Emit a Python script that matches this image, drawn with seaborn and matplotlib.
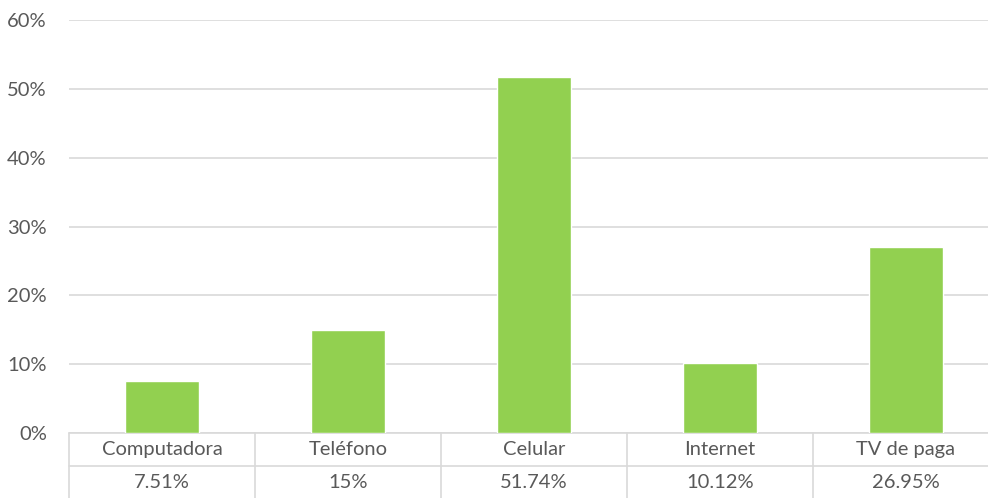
import matplotlib
matplotlib.use("Agg")
import matplotlib.pyplot as plt
import matplotlib.transforms as mtransforms
import seaborn as sns
import pandas as pd

## Data
categorias = ["Computadora", "Teléfono", "Celular", "Internet", "TV de paga"]
valores = [7.51, 15.0, 51.74, 10.12, 26.95]
etiquetas = ["7.51%", "15%", "51.74%", "10.12%", "26.95%"]

df = pd.DataFrame({"categoria": categorias, "valor": valores})

sns.set_style("white")
plt.rcParams["font.family"] = ["Lato", "DejaVu Sans"]

gris = "#595959"
linea = "#d9d9d9"
fs = 14.5

fig = plt.figure(figsize=(9.88, 4.98), dpi=100)
ax = fig.add_axes([69 / 988, 1 - 433 / 498, 930 / 988, 413 / 498])

sns.barplot(data=df, x="categoria", y="valor", color="#92D050", width=0.4,
            saturation=1, ax=ax, zorder=3)

ax.set_ylim(0, 60)
ax.set_xlim(-0.5, len(categorias) - 0.5)
ax.set_yticks(range(0, 61, 10))
ax.set_yticklabels([f"{t}%" for t in range(0, 61, 10)], fontsize=fs, color=gris)
ax.tick_params(axis="y", length=0, pad=16)
ax.set_xticks([])
ax.set_xlabel("")
ax.set_ylabel("")
ax.grid(axis="y", color=linea, linewidth=1.2, zorder=0)
for s in ax.spines.values():
    s.set_visible(False)

# Data table under the axis
trans = mtransforms.blended_transform_factory(ax.transData, ax.transAxes)
y_mid = -33 / 413
y_bot = -70 / 413
ax.plot([-0.5, len(categorias) - 0.5], [0, 0], transform=trans, color=linea,
        lw=1.2, clip_on=False)
ax.plot([-0.5, len(categorias) - 0.5], [y_mid, y_mid], transform=trans,
        color=linea, lw=1.2, clip_on=False)
for i in range(len(categorias) + 1):
    ax.plot([i - 0.5, i - 0.5], [0, y_bot], transform=trans, color=linea,
            lw=1.2, clip_on=False)
for i, (cat, lab) in enumerate(zip(categorias, etiquetas)):
    ax.text(i, -16 / 413, cat, transform=trans, ha="center", va="center",
            fontsize=fs, color=gris)
    ax.text(i, -49 / 413, lab, transform=trans, ha="center", va="center",
            fontsize=fs, color=gris)

fig.savefig("out.png", dpi=100)
